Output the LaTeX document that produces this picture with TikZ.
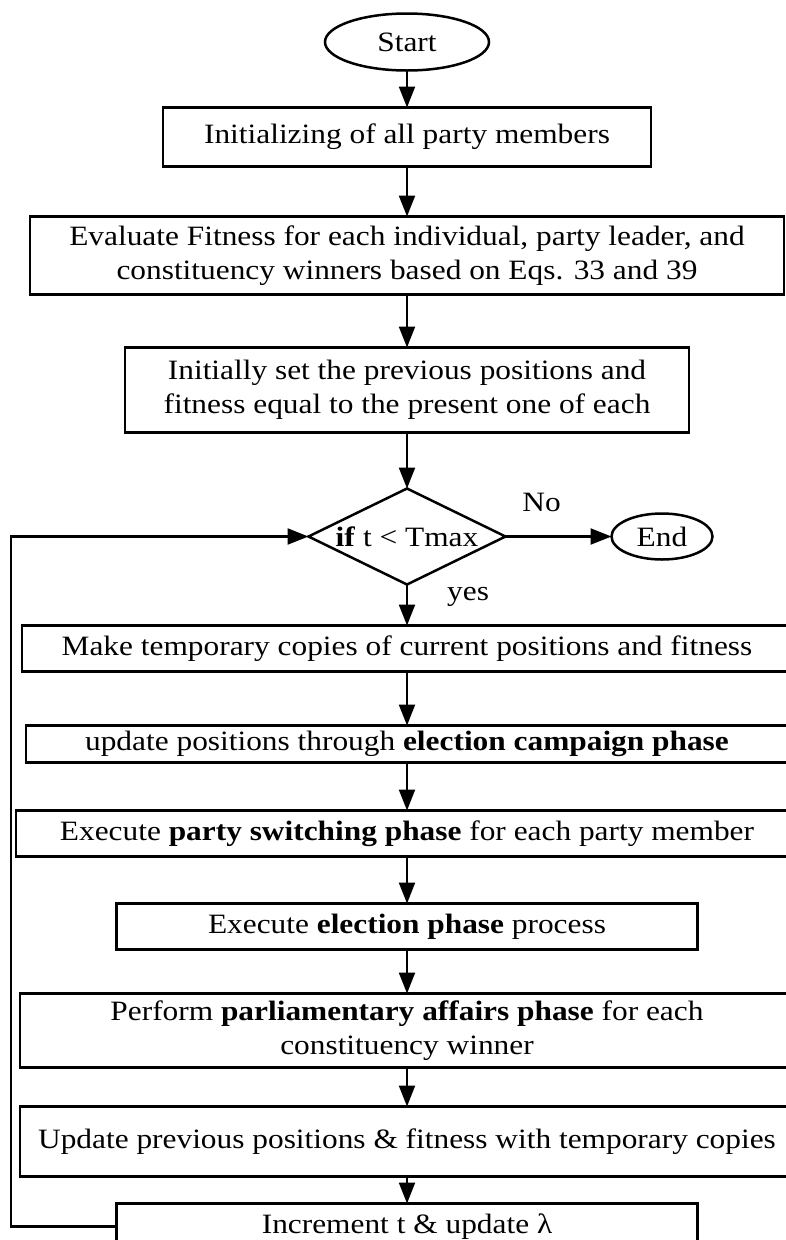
\documentclass[tikz,border=0pt]{standalone}
\usepackage{fontspec}
\setmainfont{Liberation Serif}[FakeStretch=1.12]
\usetikzlibrary{positioning,arrows.meta,shapes}
\tikzstyle{sbox}=[rectangle, draw=black, line width=2.5pt, inner sep=0pt, outer sep=0pt,
                  align=center, minimum height=46pt]
\tikzstyle{term}=[ellipse, draw=black, line width=2.5pt, inner sep=0pt, outer sep=0pt]
\tikzstyle{cond}=[diamond, draw=black, line width=2.5pt, inner sep=0pt, outer sep=0pt,
                  shape aspect=2, minimum width=197pt, minimum height=96pt]
\tikzstyle{pline}=[-{Triangle[length=21pt,width=16pt]}, line width=2.3pt]
\tikzstyle{lbl}=[inner sep=0pt]

\begin{document}
\begin{tikzpicture}[node distance=0mm, font=\fontsize{28}{33.5}\selectfont]
\useasboundingbox (0,0) rectangle (786pt,-1240pt);

\node (START) [term, minimum width=164pt, minimum height=57pt] at (407pt,-42pt) {Start};

\node (INIT) [sbox, minimum width=488pt, minimum height=59pt, below=37pt of START] {Initializing of all party members};
 \draw[pline] (START) -- (INIT);
\node (EVAL) [sbox, minimum width=754pt, minimum height=78pt, below=50pt of INIT] {Evaluate Fitness for each individual, party leader, and\\constituency winners based on Eqs. 33 and 39};
 \draw[pline] (INIT) -- (EVAL);
\node (PREV) [sbox, minimum width=564pt, minimum height=85pt, below=53pt of EVAL] {Initially set the previous positions and\\fitness equal to the present one of each};
 \draw[pline] (EVAL) -- (PREV);

\node (COND) [cond, below=56pt of PREV] {\textbf{if} t < Tmax};
 \draw[pline] (PREV) -- (COND);
\node (END) [term, minimum width=101pt, minimum height=46pt, right=106pt of COND] {End};
 \draw[pline] (COND) -- node[lbl, pos=0.34, above=24pt] (NO) {No} (END);

\node (MAKE) [sbox, minimum width=770pt, below=41pt of COND] {Make temporary copies of current positions and fitness};
 \draw[pline] (COND) -- node[lbl, pos=0.3, right=39pt] (YES) {yes} (MAKE);
\node (ECP) [sbox, minimum width=762pt, minimum height=37pt, below=54pt of MAKE] {update positions through \textbf{election campaign phase}};
 \draw[pline] (MAKE) -- (ECP);
\node (PSP) [sbox, minimum width=782pt, below=48pt of ECP] {Execute \textbf{party switching phase} for each party member};
 \draw[pline] (ECP) -- (PSP);
\node (ELP) [sbox, minimum width=581pt, below=47pt of PSP] {Execute \textbf{election phase} process};
 \draw[pline] (PSP) -- (ELP);
\node (PAP) [sbox, minimum width=774pt, minimum height=74pt, below=44pt of ELP] {Perform \textbf{parliamentary affairs phase} for each\\constituency winner};
 \draw[pline] (ELP) -- (PAP);
\node (UPD) [sbox, minimum width=774pt, minimum height=70pt, below=39pt of PAP] {Update previous positions \& fitness with temporary copies};
 \draw[pline] (PAP) -- (UPD);
\node (INC) [sbox, minimum width=581pt, below=27pt of UPD] {Increment t \& update λ};
 \draw[pline] (UPD) -- (INC);

% loop back to the test
\coordinate (LOOP) at (11pt,0pt);
 \draw[pline] (INC.west) -| (LOOP |- COND.west) -- (COND.west);

\end{tikzpicture}
\end{document}
